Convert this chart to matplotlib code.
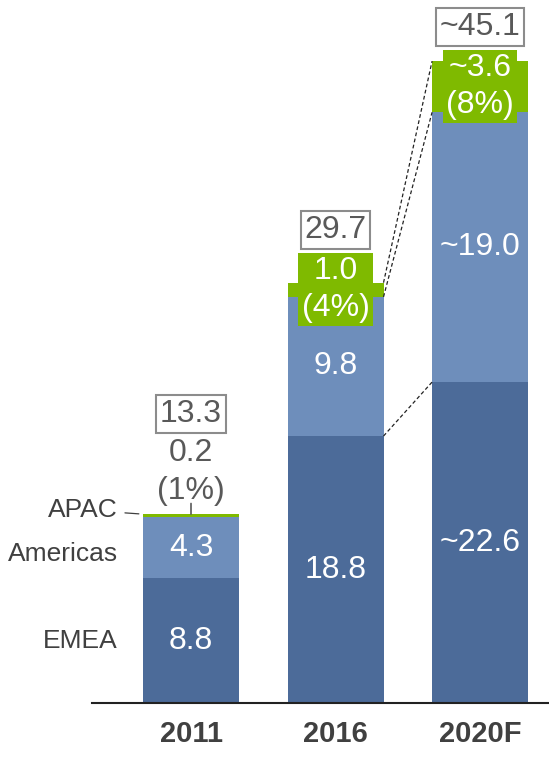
import matplotlib
matplotlib.use("Agg")
import matplotlib.pyplot as plt
import numpy as np

plt.rcParams['font.family'] = ['Liberation Sans', 'DejaVu Sans']

categories = ["2011", "2016", "2020F"]
emea = [8.8, 18.8, 22.6]
americas = [4.3, 9.8, 19.0]
apac = [0.2, 1.0, 3.6]
totals = ["13.3", "29.7", "~45.1"]
emea_labels = ["8.8", "18.8", "~22.6"]
americas_labels = ["4.3", "9.8", "~19.0"]
apac_labels = ["0.2\n(1%)", "1.0\n(4%)", "~3.6\n(8%)"]
region_names = ["EMEA", "Americas", "APAC"]

C_EMEA = "#4C6B99"
C_AM = "#6E8EBB"
C_AP = "#7FBA00"
GRAY = "#595959"

W, H = 549, 757
fig = plt.figure(figsize=(W / 100, H / 100), dpi=100)
ax = fig.add_axes([92 / W, 54 / H, 1 - 92 / W, 703 / H])

x = np.arange(len(categories))
w = 0.664
emea = np.array(emea); americas = np.array(americas); apac = np.array(apac)

ax.bar(x, emea, w, color=C_EMEA, zorder=2)
ax.bar(x, americas, w, bottom=emea, color=C_AM, zorder=2)
ax.bar(x, apac, w, bottom=emea + americas, color=C_AP, zorder=2)

ax.set_xlim(-0.685, 2.477)
ax.set_ylim(0, 703 / 14.2)

for s in ["left", "right", "top"]:
    ax.spines[s].set_visible(False)
ax.spines["bottom"].set_linewidth(1.5)
ax.spines["bottom"].set_color("#222222")
ax.set_yticks([])
ax.set_xticks(x)
ax.set_xticklabels(categories, fontsize=21, fontweight="bold", color="#404040")
ax.tick_params(axis="x", length=0, pad=12)

fs = 23
for i in range(len(categories)):
    ax.text(x[i], emea[i] / 2, emea_labels[i], ha="center", va="center",
            color="white", fontsize=fs, zorder=4)
    ax.text(x[i], emea[i] + americas[i] / 2, americas_labels[i], ha="center",
            va="center", color="white", fontsize=fs, zorder=4)
    top = emea[i] + americas[i] + apac[i]
    if i == 0:
        ax.annotate(apac_labels[i], (x[i], top), xytext=(0, 30),
                    textcoords="offset points", ha="center", va="center",
                    fontsize=fs, color=GRAY, linespacing=1.35, zorder=4)
        ax.annotate("", (x[i], top), xytext=(x[i], top + 0.75),
                    arrowprops=dict(arrowstyle="-", color=GRAY, lw=1.2,
                                    shrinkA=0, shrinkB=0))
        ax.annotate(totals[i], (x[i], top), xytext=(0, 72),
                    textcoords="offset points", ha="center", va="center",
                    fontsize=fs, color=GRAY, zorder=4,
                    bbox=dict(boxstyle="square,pad=0.12", fc="white",
                              ec="#8C8C8C", lw=1.5))
    else:
        mid = emea[i] + americas[i] + apac[i] / 2
        ax.text(x[i], mid, apac_labels[i], ha="center", va="center",
                fontsize=fs, color="white", linespacing=1.3, zorder=4,
                bbox=dict(boxstyle="square,pad=0.1", fc=C_AP, ec="none"))
        ax.annotate(totals[i], (x[i], mid), xytext=(0, 43),
                    textcoords="offset points", ha="center", va="center",
                    fontsize=fs, color=GRAY, zorder=4,
                    bbox=dict(boxstyle="square,pad=0.12", fc="white",
                              ec="#8C8C8C", lw=1.5))

# dashed connectors 2016 -> 2020F
i, j = 1, 2
for yi, yj in [(emea[i], emea[j]),
               (emea[i] + americas[i], emea[j] + americas[j]),
               (emea[i] + americas[i] + apac[i], emea[j] + americas[j] + apac[j])]:
    ax.plot([x[i] + w / 2, x[j] - w / 2], [yi, yj], ls=(0, (3, 2)),
            color="#222222", lw=0.9, zorder=3)

# region labels at left of 2011 bar
lx = x[0] - w / 2
ax.annotate(region_names[0], (lx, emea[0] / 2), xytext=(-18, 0),
            textcoords="offset points", ha="right", va="center",
            fontsize=19, color="#404040")
ax.annotate(region_names[1], (lx, emea[0] + americas[0] * 0.4), xytext=(-18, 0),
            textcoords="offset points", ha="right", va="center",
            fontsize=19, color="#404040")
ax.annotate(region_names[2], (lx, emea[0] + americas[0] + apac[0]),
            xytext=(-18, 3), textcoords="offset points", ha="right",
            va="center", fontsize=19, color="#404040",
            arrowprops=dict(arrowstyle="-", color="#404040", lw=0.9,
                            shrinkA=3, shrinkB=3))

fig.savefig("out.png", dpi=100)
